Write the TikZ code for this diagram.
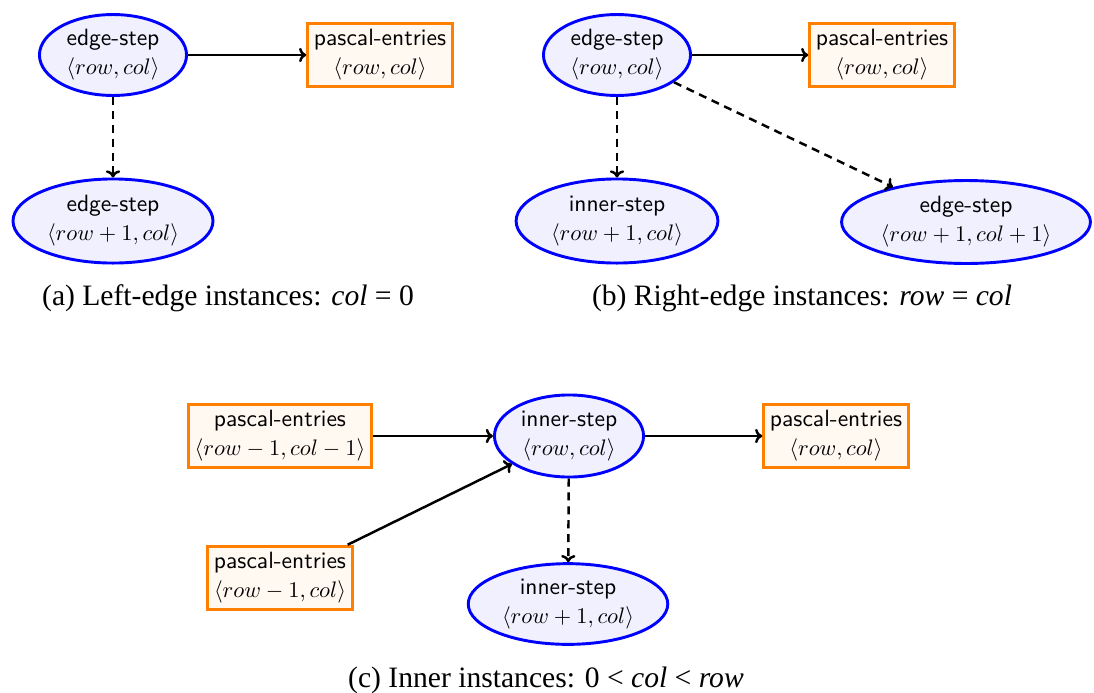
\documentclass[tikz,border=0pt]{standalone}
\usepackage{fontspec}
\newfontfamily\capfont{Liberation Serif}
\usetikzlibrary{shapes.geometric,arrows.meta}
% index pair set in 10pt math
\newcommand{\idxpair}[1]{{\fontsize{10}{13}\selectfont$\langle #1\rangle$}}
\begin{document}
\begin{tikzpicture}[x=0.446pt,y=-0.446pt,
  stepnode/.style={ellipse, draw=blue, fill=blue!6, line width=1.3pt,
    inner sep=0pt, align=center, font=\sffamily\fontsize{10.5}{13}\selectfont},
  entrynode/.style={rectangle, draw=orange, fill=orange!5, line width=1.3pt,
    inner sep=2.8pt, align=center, font=\sffamily\fontsize{10.5}{13}\selectfont},
  flow/.style={-{To[length=3.2pt,width=6.4pt]}, line width=1.1pt},
  spawn/.style={-{To[length=3.2pt,width=6.4pt]}, line width=1.1pt, dash pattern=on 3.6pt off 2.6pt},
  capt/.style={font=\capfont\fontsize{13.2}{15}\selectfont, inner sep=0pt}]
\useasboundingbox (0,0) rectangle (1094,692);

% (a) left-edge instances
\node[stepnode, minimum width=65.6pt, minimum height=36.1pt] (a1) at (113,55)
  {edge-step\\\idxpair{row, col}};
\node[entrynode] (a2) at (380,55) {pascal-entries\\\idxpair{row, col}};
\node[stepnode, minimum width=89.2pt, minimum height=37.5pt] (a3) at (113,221)
  {edge-step\\\idxpair{row+1, col}};
\draw[flow] (a1) -- (a2);
\draw[spawn] (a1) -- (a3);
\node[capt] (capa) at (228,298) {(a) Left-edge instances: \textit{col} = 0};

% (b) right-edge instances
\node[stepnode, minimum width=65.6pt, minimum height=36.1pt] (b1) at (617,55)
  {edge-step\\\idxpair{row, col}};
\node[entrynode] (b2) at (882,55) {pascal-entries\\\idxpair{row, col}};
\node[stepnode, minimum width=90pt, minimum height=37.5pt] (b3) at (617,221)
  {inner-step\\\idxpair{row+1, col}};
\node[stepnode, minimum width=111pt, minimum height=37pt] (b4) at (966,222)
  {edge-step\\\idxpair{row+1, col+1}};
\draw[flow] (b1) -- (b2);
\draw[spawn] (b1) -- (b3);
\draw[spawn] (b1) -- (b4);
\node[capt] (capb) at (802,298) {(b) Right-edge instances: \textit{row} = \textit{col}};

% (c) inner instances
\node[stepnode, minimum width=66.5pt, minimum height=36.6pt] (c1) at (569,436)
  {inner-step\\\idxpair{row, col}};
\node[entrynode] (c0) at (280,436) {pascal-entries\\\idxpair{row-1, col-1}};
\node[entrynode] (c2) at (836,436) {pascal-entries\\\idxpair{row, col}};
\node[entrynode] (c3) at (280,578) {pascal-entries\\\idxpair{row-1, col}};
\node[stepnode, minimum width=89pt, minimum height=36pt] (c4) at (568,604)
  {inner-step\\\idxpair{row+1, col}};
\draw[flow] (c0) -- (c1);
\draw[flow] (c3) -- (c1);
\draw[flow] (c1) -- (c2);
\draw[spawn] (c1) -- (c4);
\node[capt] (capc) at (546,680) {(c) Inner instances: 0 < \textit{col} < \textit{row}};
\end{tikzpicture}
\end{document}
